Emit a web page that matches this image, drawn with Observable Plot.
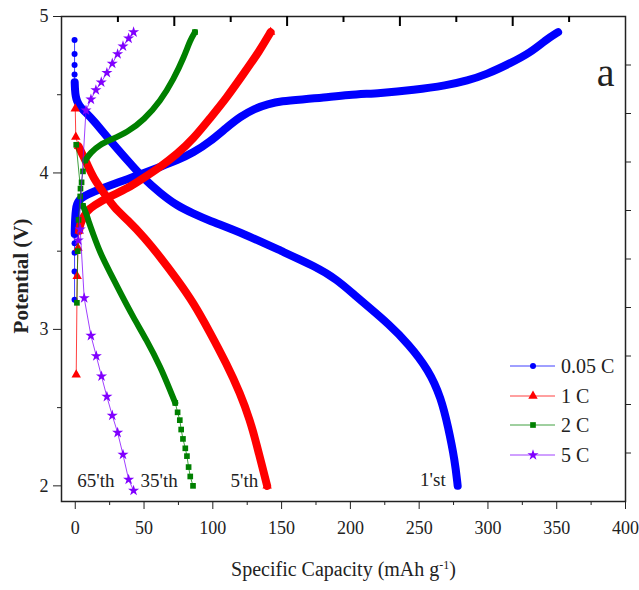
<!DOCTYPE html>
<html>
<head>
<meta charset="utf-8">
<script src="https://cdn.jsdelivr.net/npm/d3@7"></script>
<script src="https://cdn.jsdelivr.net/npm/@observablehq/plot@0.6"></script>
<style>
  body { margin: 0; background: #fff; }
  #wrap { position: relative; width: 639px; height: 590px; background: #fff; }
  #legend { position: absolute; left: 505px; top: 351px; font-family: "Liberation Serif", "Times New Roman", serif; font-size: 20px; color: #222; }
  .row { height: 29.7px; display: flex; align-items: center; }
  .row svg { display: block; }
  .row span { margin-left: 4px; line-height: 1; }
</style>
</head>
<body>
<div id="wrap"><div id="legend"></div></div>
<script>
// ---- axis ticks ----
const xMajorTicks = [0, 50, 100, 150, 200, 250, 300, 350, 400];
const xMinorTicks = [25, 75, 125, 175, 225, 275, 325, 375];
const yMajorTicks = [2, 3, 4, 5];
const yMinorTicks = [2.5, 3.5, 4.5];
const xDomain = [-10, 400];
const yDomain = [1.9, 5];

// ---- series (capacity mAh/g, potential V) ----
// 0.05 C, 1st cycle
const blueChargeSparse = [[-0.5, 3.19], [-0.5, 3.37], [-0.5, 3.49], [-0.5, 3.55]];
const blueChargeDense = [[-0.4, 3.61], [-0.3, 3.66], [0, 3.72], [0.5, 3.77], [1.2, 3.80], [3, 3.83], [6, 3.85], [13, 3.88], [25, 3.92], [38, 3.96], [50, 4.00], [62, 4.04], [74, 4.08], [86, 4.13], [98, 4.20], [110, 4.29], [120, 4.36], [130, 4.41], [140, 4.44], [150, 4.46], [165, 4.47], [180, 4.48], [198, 4.50], [222, 4.51], [246, 4.53], [270, 4.56], [285, 4.59], [299, 4.63], [316, 4.70], [331, 4.77], [342, 4.85], [351, 4.90]];
const blueDischargeSparse = [[-0.5, 4.85], [-0.5, 4.76], [-0.5, 4.69], [-0.5, 4.63]];
const blueDischargeDense = [[-0.4, 4.58], [-0.2, 4.53], [0.3, 4.49], [1.2, 4.46], [3, 4.43], [6, 4.40], [13, 4.34], [25, 4.21], [38, 4.08], [50, 3.96], [62, 3.87], [74, 3.79], [86, 3.74], [96, 3.70], [123, 3.61], [150, 3.50], [175, 3.40], [190, 3.32], [203, 3.22], [215, 3.13], [227, 3.04], [242, 2.91], [257, 2.74], [266, 2.56], [271, 2.38], [276, 2.16], [278, 2.00]];

// 1 C, 5th cycle
const redChargeSparse = [[0.7, 2.71], [1.4, 3.34], [2.0, 3.52]];
const redChargeDense = [[2.8, 3.63], [3.6, 3.68], [8.5, 3.76], [13, 3.79], [25, 3.85], [38, 3.90], [50, 3.97], [62, 4.04], [74, 4.12], [86, 4.22], [98, 4.35], [110, 4.48], [122, 4.63], [134, 4.78], [142, 4.90]];
const redDischargeSparse = [[0, 4.41], [0.4, 4.23]];
const redDischargeDense = [[2.4, 4.17], [8.5, 4.06], [13, 3.97], [21, 3.87], [28, 3.78], [38, 3.70], [50, 3.59], [62, 3.46], [74, 3.32], [86, 3.17], [98, 2.98], [110, 2.78], [120, 2.59], [127, 2.42], [132, 2.26], [136, 2.12], [139.5, 2.00]];

// 2 C, 35th cycle
const greenChargeSparse = [[1.2, 3.17], [1.8, 3.50], [2.4, 3.70], [3.6, 3.85], [4.6, 3.94], [5.6, 4.01]];
const greenChargeDense = [[7.3, 4.08], [11, 4.13], [18, 4.18], [25, 4.21], [38, 4.26], [50, 4.34], [62, 4.46], [71.5, 4.60], [79, 4.74], [83.6, 4.85], [87, 4.90]];
const greenDischargeSparse = [[0.7, 4.18], [3.8, 3.90]];
const greenDischargeDense = [[5.6, 3.79], [8.5, 3.73], [9.7, 3.69], [13, 3.61], [18, 3.49], [25.5, 3.36], [33, 3.23], [42, 3.08], [52, 2.93], [62, 2.76], [69, 2.61], [72.7, 2.53]];
const greenDischargeTail = [[74.4, 2.47], [76, 2.42], [77, 2.36], [78.3, 2.30], [80, 2.24], [81.2, 2.19], [82.4, 2.12], [83.6, 2.06], [85.6, 2.00]];

// 5 C, 65th cycle
const purpleCharge = [[2.2, 3.57], [7.8, 4.40], [11.4, 4.47], [15, 4.53], [18.9, 4.58], [23, 4.64], [26.9, 4.70], [30.8, 4.76], [34.7, 4.81], [38.8, 4.86], [42.4, 4.90]];
const purpleDischarge = [[3.6, 3.64], [6.5, 3.20], [11.4, 2.96], [15.3, 2.83], [19.1, 2.70], [23, 2.57], [26.9, 2.45], [30.8, 2.34], [34.7, 2.20], [38.8, 2.04], [42.4, 1.97]];

// ---- annotations & legend ----
const cycleLabels = ["65'th", "35'th", "5'th", "1'st"];
const cycleLabelX = [15, 61, 123, 260];
const cycleLabelY = [2.03, 2.03, 2.03, 2.04];
const legendLabels = ["0.05 C", "1 C", "2 C", "5 C"];
const panelLabel = ["a"];

const BLUE = "#0000ff", RED = "#ff0000", GREEN = "#008000", PURPLE = "#8000ff";
const SERIF = '"Liberation Serif", "Times New Roman", serif';
const X = d => d[0], Y = d => d[1];

function series(sparse, dense, tail, color, symbol, r, width) {
  const all = [...sparse, ...dense, ...tail];
  const marks = [Plot.line(all, {x: X, y: Y, stroke: color, strokeWidth: 1, strokeOpacity: 0.75})];
  if (dense.length) marks.push(Plot.line(dense, {x: X, y: Y, stroke: color, strokeWidth: width, curve: "basis", strokeLinecap: "round", strokeLinejoin: "round"}));
  marks.push(Plot.dot([...sparse, ...tail, dense[0], dense[dense.length - 1]].filter(Boolean), {x: X, y: Y, fill: color, stroke: "none", r, symbol}));
  return marks;
}

// top and right axes of the frame: ten equal divisions of each domain
const frameDiv = d3.range(1, 10);
const topTicks = frameDiv.map(i => xDomain[0] + (xDomain[1] - xDomain[0]) * i / 10);
const rightTicks = frameDiv.map(i => yDomain[0] + (yDomain[1] - yDomain[0]) * i / 10);
const vPerPx = (yDomain[1] - yDomain[0]) / (590 - 16 - 89);
const topTickLen = frameDiv.map(i => (i % 2 === 0 ? 10 : 6) * vPerPx);

const chart = Plot.plot({
  width: 639, height: 590,
  marginTop: 16, marginRight: 14, marginBottom: 89, marginLeft: 61,
  x: {domain: xDomain},
  y: {domain: yDomain},
  style: {fontFamily: SERIF, fontSize: "18px", color: "#222", background: "#fff"},
  marks: [
    Plot.axisX({ticks: xMajorTicks, tickSize: 8, tickPadding: 12, tickFormat: d => d, label: "Specific Capacity (mAh g-1)", labelAnchor: "center", labelOffset: 74, labelArrow: "none"}),
    Plot.axisX({ticks: xMinorTicks, tickSize: 4, tickFormat: () => "", label: null}),
    Plot.axisY({ticks: yMajorTicks, tickSize: 8, tickPadding: 5, tickFormat: d => d, label: "Potential (V)", labelAnchor: "center", labelOffset: 48, labelArrow: "none"}),
    Plot.axisY({ticks: yMinorTicks, tickSize: 4, tickFormat: () => "", label: null}),
    Plot.axisY({anchor: "right", ticks: rightTicks, tickSize: 5, tickFormat: () => "", label: null}),
    Plot.frame({stroke: "#222", strokeWidth: 1.5}),
    ...series(blueChargeSparse, blueChargeDense, [], BLUE, "circle", 3, 8),
    ...series(blueDischargeSparse, blueDischargeDense, [], BLUE, "circle", 3, 8),
    ...series(redChargeSparse, redChargeDense, [], RED, "triangle", 3.5, 8),
    ...series(redDischargeSparse, redDischargeDense, [], RED, "triangle", 3.5, 8),
    ...series(greenChargeSparse, greenChargeDense, [], GREEN, "square", 3.2, 6),
    ...series(greenDischargeSparse, greenDischargeDense, greenDischargeTail, GREEN, "square", 3.2, 6),
    ...series(purpleCharge, [], [], PURPLE, "star", 3.5, 1),
    ...series(purpleDischarge, [], [], PURPLE, "star", 3.5, 1),
    Plot.ruleX(topTicks, {x: d => d, y1: () => yDomain[1], y2: (d, i) => yDomain[1] - topTickLen[i], stroke: "#000", strokeWidth: 2}),
    Plot.text(cycleLabels, {x: (d, i) => cycleLabelX[i], y: (d, i) => cycleLabelY[i], text: d => d, fontSize: 19, fill: "#222", textAnchor: "middle"}),
    Plot.text(panelLabel, {frameAnchor: "top-right", text: d => d, dx: -20, dy: 57, fontSize: 40, textAnchor: "middle", lineAnchor: "middle", fill: "#222"})
  ]
});

document.getElementById("wrap").prepend(chart);

// axis label styling
const svg = d3.select(chart);
const yl = svg.select('g[aria-label="y-axis label"]');
yl.attr("transform", ((yl.attr("transform") || "") + " translate(0,17)").trim());
yl.selectAll("text").style("font-weight", "bold").style("font-size", "21px");
const xl = svg.select('g[aria-label="x-axis label"] text');
xl.style("font-size", "20px").text(null);
xl.append("tspan").text("Specific Capacity (mAh g");
xl.append("tspan").attr("baseline-shift", "super").attr("font-size", "12px").text("-1");
xl.append("tspan").text(")");

// legend
const legendColors = [BLUE, RED, GREEN, PURPLE];
const legendSymbols = [d3.symbolCircle, d3.symbolTriangle, d3.symbolSquare, d3.symbolStar];
const legendR = [3, 3.5, 3.2, 3.5];
const lg = d3.select("#legend");
legendLabels.forEach((lab, i) => {
  const row = lg.append("div").attr("class", "row");
  const s = row.append("svg").attr("width", 52).attr("height", 20);
  s.append("line").attr("x1", 5).attr("x2", 50).attr("y1", 10).attr("y2", 10).attr("stroke", legendColors[i]).attr("stroke-width", 1).attr("stroke-opacity", 0.75);
  s.append("path").attr("transform", "translate(28,10)").attr("d", d3.symbol(legendSymbols[i], Math.PI * legendR[i] * legendR[i])()).attr("fill", legendColors[i]);
  row.append("span").text(lab);
});
</script>
</body>
</html>
